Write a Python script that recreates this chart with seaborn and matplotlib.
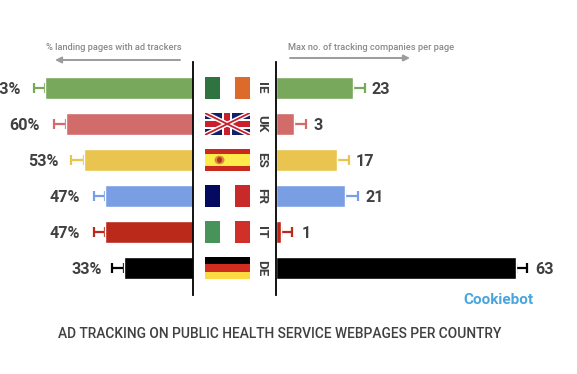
import matplotlib
matplotlib.use("Agg")
import matplotlib.pyplot as plt
from matplotlib.patches import Rectangle, Ellipse
import seaborn as sns

countries = ["IE", "UK", "ES", "FR", "IT", "DE"]
colors = ["#78a85c", "#d26c6b", "#e9c44e", "#7a9ee4", "#bb291b", "#000000"]
left_labels = ["73%", "60%", "53%", "47%", "47%", "33%"]
right_labels = ["23", "3", "17", "21", "1", "63"]
left_bars = [72.2, 62.0, 53.2, 42.9, 42.9, 33.7]
left_errs = [5.6, 5.9, 6.3, 5.4, 5.4, 5.6]
right_bars = [20.3, 4.7, 16.0, 18.2, 1.4, 63.2]
right_errs = [3.1, 3.1, 3.2, 3.3, 2.7, 2.9]
left_title = "% landing pages with ad trackers"
right_title = "Max no. of tracking companies per page"
title = "AD TRACKING ON PUBLIC HEALTH SERVICE WEBPAGES PER COUNTRY"
brand = "Cookiebot"

W, H = 577, 374
sns.set_theme(style="white")
plt.rcParams["font.family"] = ["Roboto", "DejaVu Sans"]
fig = plt.figure(figsize=(W / 100, H / 100), dpi=100, facecolor="white")
TXT = "#404040"


def px_axes(x0, x1, y0, y1):
    return fig.add_axes([x0 / W, 1 - y1 / H, (x1 - x0) / W, (y1 - y0) / H])


top, bottom = 62, 295
ylim = (5.75, -0.722)

axL = px_axes(0, 193, top, bottom)
axR = px_axes(276, W, top, bottom)
axM = px_axes(193, 276, top, bottom)

for ax, vals, errs in ((axL, left_bars, left_errs), (axR, right_bars, right_errs)):
    sns.barplot(y=countries, x=vals, hue=countries, palette=colors, orient="h",
                width=0.61, dodge=False, legend=False, saturation=1, ax=ax)
    for p in ax.patches:
        p.set_zorder(3)
    for i, (v, e, c) in enumerate(zip(vals, errs, colors)):
        ax.errorbar([v], [i], xerr=[[0], [e]], color=c, elinewidth=1.6, capsize=3.4,
                    capthick=1.6, zorder=1)
    ax.set_ylim(*ylim)
    ax.set_xlabel("")
    ax.set_ylabel("")
    ax.set_xticks([])
    ax.set_yticks([])
    ax.patch.set_alpha(0)
    sns.despine(ax=ax, top=True, bottom=True, left=True, right=True)

axL.set_xlim(193 / 2.05, 0)
axR.set_xlim(0, 301 / 3.8)
for ax, side in ((axL, "right"), (axR, "left")):
    ax.spines[side].set_visible(True)
    ax.spines[side].set_color("black")
    ax.spines[side].set_linewidth(1.3)
    ax.spines[side].set_zorder(5)

left_gaps = [12.5, 14, 12, 14, 14, 10]
right_gaps = [7, 8, 7, 8, 10, 8]
for i in range(len(countries)):
    axL.annotate(left_labels[i], (left_bars[i] + left_errs[i], i),
                 xytext=(-left_gaps[i] * 0.72, -0.8), textcoords="offset points",
                 ha="right", va="center", fontsize=11.6, fontweight="bold",
                 color=TXT, annotation_clip=False)
    axR.annotate(right_labels[i], (right_bars[i] + right_errs[i], i),
                 xytext=(right_gaps[i] * 0.72, -0.8), textcoords="offset points",
                 ha="left", va="center", fontsize=11.6, fontweight="bold",
                 color=TXT, annotation_clip=False)

# Centre column: flags and country codes
axM.set_xlim(0, 83)
axM.set_ylim(*ylim)
axM.axis("off")
fx0, fx1 = 11.5, 57
fw = fx1 - fx0
fh = 0.62


def rect(x, y, w, h, c, **kw):
    axM.add_patch(Rectangle((x, y), w, h, facecolor=c, edgecolor="none", **kw))


def tricolor(i, c1, c3):
    rect(fx0, i - fh / 2, fw / 3, fh, c1)
    rect(fx0 + 2 * fw / 3, i - fh / 2, fw / 3, fh, c3)


tricolor(0, "#2f7341", "#dc6a2b")
tricolor(3, "#040a5f", "#c82a2a")
tricolor(4, "#47935a", "#d03027")

# UK
frame = Rectangle((fx0, 1 - fh / 2), fw, fh, facecolor="#12206a", edgecolor="none")
axM.add_patch(frame)
for lw, col in ((3.4, "white"), (1.3, "#c8202c")):
    for ya, yb in ((1 - fh / 2, 1 + fh / 2), (1 + fh / 2, 1 - fh / 2)):
        ln, = axM.plot([fx0, fx1], [ya, yb], color=col, lw=lw, solid_capstyle="butt")
        ln.set_clip_path(frame)
rect(fx0, 1 - 0.13, fw, 0.26, "white")
rect(fx0 + fw / 2 - 5.2, 1 - fh / 2, 10.4, fh, "white")
rect(fx0, 1 - 0.08, fw, 0.16, "#c8202c")
rect(fx0 + fw / 2 - 3, 1 - fh / 2, 6, fh, "#c8202c")

# Spain
rect(fx0, 2 - fh / 2, fw, fh, "#c92a1e")
rect(fx0, 2 - fh / 4 - 0.01, fw, fh / 2 + 0.02, "#fdeb4b")
axM.add_patch(Ellipse((fx0 + 15, 2), 10, 0.24, facecolor="#d88a3a", edgecolor="none"))
axM.add_patch(Ellipse((fx0 + 15, 2), 5, 0.16, facecolor="#b8301f", edgecolor="none"))

# Germany
rect(fx0, 5 - fh / 2, fw, fh / 3, "#000000")
rect(fx0, 5 - fh / 6, fw, fh / 3, "#d02c1f")
rect(fx0, 5 + fh / 6, fw, fh / 3, "#fdd944")

for i, code in enumerate(countries):
    axM.text(68.5, i, code, rotation=-90, ha="center", va="center", fontsize=9.6,
             fontweight="bold", color=TXT)


def ftext(x, y, s, **kw):
    fig.text(x / W, 1 - y / H, s, **kw)


def farrow(x0, x1, y):
    fig.add_artist(matplotlib.patches.FancyArrowPatch(
        (x0 / W, 1 - y / H), (x1 / W, 1 - y / H), transform=fig.transFigure,
        arrowstyle="-|>", mutation_scale=9, lw=1.4, color="#9c9c9c",
        shrinkA=0, shrinkB=0))


ftext(46, 47, left_title, fontsize=6.65, color="#8a8a8a", fontweight="medium", va="center", ha="left")
ftext(288.5, 47, right_title, fontsize=6.7, color="#8a8a8a", fontweight="medium", va="center", ha="left")
farrow(180, 55, 60)
farrow(290, 410, 58)
ftext(279.5, 334, title, fontsize=9.95, color="#404040", fontweight="medium", va="center", ha="center")
ftext(463, 300, brand, fontsize=11, color="#4aa5dd", fontweight="bold", va="center", ha="left")

fig.savefig("out.png", dpi=100, facecolor="white")
